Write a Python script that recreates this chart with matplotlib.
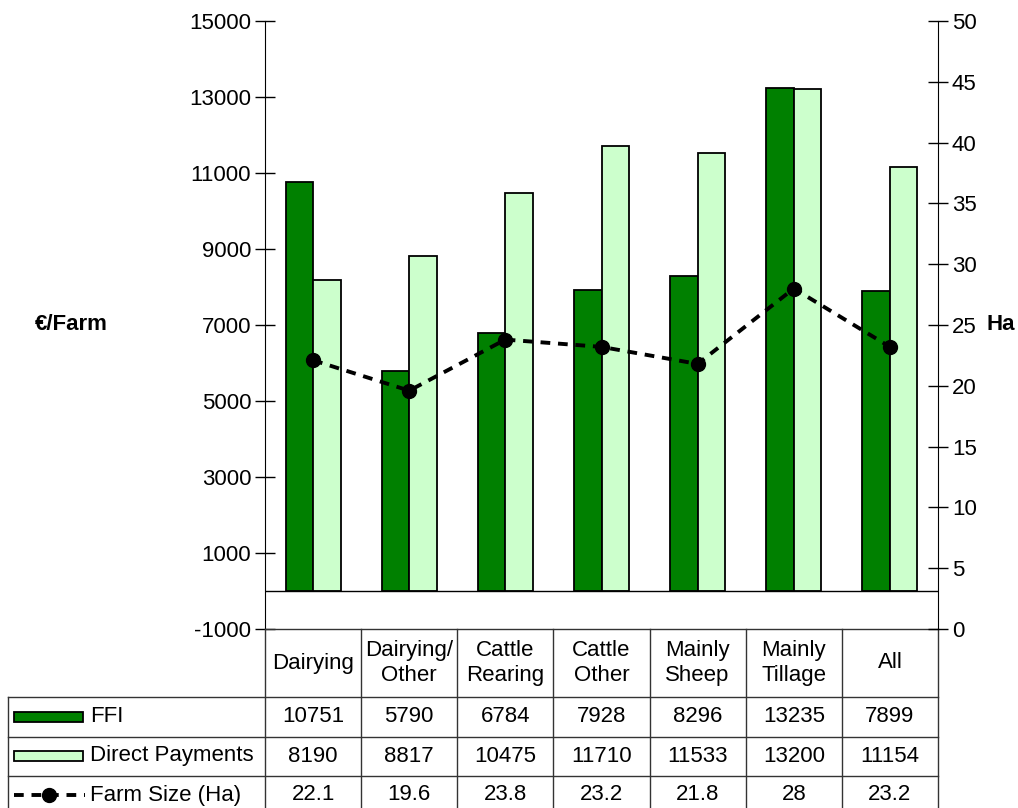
import numpy as np
import matplotlib.pyplot as plt
from matplotlib.patches import Rectangle
from matplotlib.lines import Line2D

plt.rcParams['font.family'] = ['Liberation Sans', 'DejaVu Sans']
plt.rcParams['axes.unicode_minus'] = False

# données
categories = ['Dairying', 'Dairying/\nOther', 'Cattle\nRearing', 'Cattle\nOther',
              'Mainly\nSheep', 'Mainly\nTillage', 'All']
ffi = [10751, 5790, 6784, 7928, 8296, 13235, 7899]
direct_payments = [8190, 8817, 10475, 11710, 11533, 13200, 11154]
farm_size = [22.1, 19.6, 23.8, 23.2, 21.8, 28, 23.2]
farm_size_labels = ['22.1', '19.6', '23.8', '23.2', '21.8', '28', '23.2']
series_names = ['FFI', 'Direct Payments', 'Farm Size (Ha)']

W, H = 1018, 808
fs = 16
fig = plt.figure(figsize=(W / 100, H / 100), dpi=100)

# zone du graphique en pixels
x0, x1, y0, y1 = 265, 938, 21, 629
ax = fig.add_axes([x0 / W, 1 - y1 / H, (x1 - x0) / W, (y1 - y0) / H])
ax2 = ax.twinx()

x = np.arange(len(categories))
bw = 0.286
ax.bar(x - bw / 2, ffi, bw, color='#008000', edgecolor='black', linewidth=1.3, zorder=2)
ax.bar(x + bw / 2, direct_payments, bw, color='#CCFFCC', edgecolor='black', linewidth=1.3, zorder=2)
ax.axhline(0, color='black', linewidth=1, zorder=3)
ax.set_xlim(-0.5, len(categories) - 0.5)
ax.set_ylim(-1000, 15000)
ax.set_yticks(np.arange(-1000, 15001, 2000))
ax.set_xticks([])

ax2.plot(x, farm_size, color='black', linestyle=(0, (2.5, 2)), linewidth=2.8,
         marker='o', markersize=10, zorder=4)
ax2.set_ylim(0, 50)
ax2.set_yticks(np.arange(0, 51, 5))

for a in (ax, ax2):
    a.spines['top'].set_visible(False)
    a.spines['bottom'].set_visible(False)
    a.tick_params(axis='y', direction='inout', length=14, width=1, labelsize=fs, pad=3)
ax.spines['right'].set_visible(False)
ax2.spines['left'].set_visible(False)
ax2.set_zorder(ax.get_zorder() + 1)
ax2.patch.set_visible(False)

fig.text(71 / W, 1 - 325 / H, '€/Farm', fontsize=fs, fontweight='bold', ha='center', va='center')
fig.text(986 / W, 1 - 325 / H, 'Ha', fontsize=fs, fontweight='bold', ha='left', va='center')

# tableau de données
tb = fig.add_axes([0, 0, 1, 1])
tb.set_xlim(0, W)
tb.set_ylim(H, 0)
tb.axis('off')
tb.patch.set_visible(False)

col_w = (x1 - x0) / len(categories)
cols = [x0 + i * col_w for i in range(len(categories) + 1)]
rows = [629, 697, 737, 776, 815]
lc = '#333333'
# lignes horizontales
tb.plot([x0, cols[-1]], [rows[0], rows[0]], color=lc, lw=1)
for r in rows[1:]:
    tb.plot([8, cols[-1]], [r, r], color=lc, lw=1)
# lignes verticales
for c in cols:
    tb.plot([c, c], [rows[0], H], color=lc, lw=1)
tb.plot([8, 8], [rows[1], H], color=lc, lw=1)

for i, cat in enumerate(categories):
    cx = (cols[i] + cols[i + 1]) / 2
    tb.text(cx, (rows[0] + rows[1]) / 2, cat, fontsize=fs, ha='center', va='center',
            linespacing=1.25)
    tb.text(cx, (rows[1] + rows[2]) / 2, str(ffi[i]), fontsize=fs, ha='center', va='center')
    tb.text(cx, (rows[2] + rows[3]) / 2, str(direct_payments[i]), fontsize=fs, ha='center', va='center')
    tb.text(cx, 795, farm_size_labels[i], fontsize=fs, ha='center', va='center')

# légende dans la première colonne
tb.add_patch(Rectangle((14, 712), 69, 10, facecolor='#008000', edgecolor='black', lw=1.3))
tb.add_patch(Rectangle((14, 751), 69, 10, facecolor='#CCFFCC', edgecolor='black', lw=1.3))
tb.add_line(Line2D([14, 85], [795, 795], color='black', linestyle=(0, (2.5, 2)), linewidth=2.8))
tb.plot([49], [795], marker='o', color='black', markersize=10)
for name, yy in zip(series_names, [717, 756, 795]):
    tb.text(90, yy, name, fontsize=fs, ha='left', va='center')

fig.savefig('out.png', dpi=100)
